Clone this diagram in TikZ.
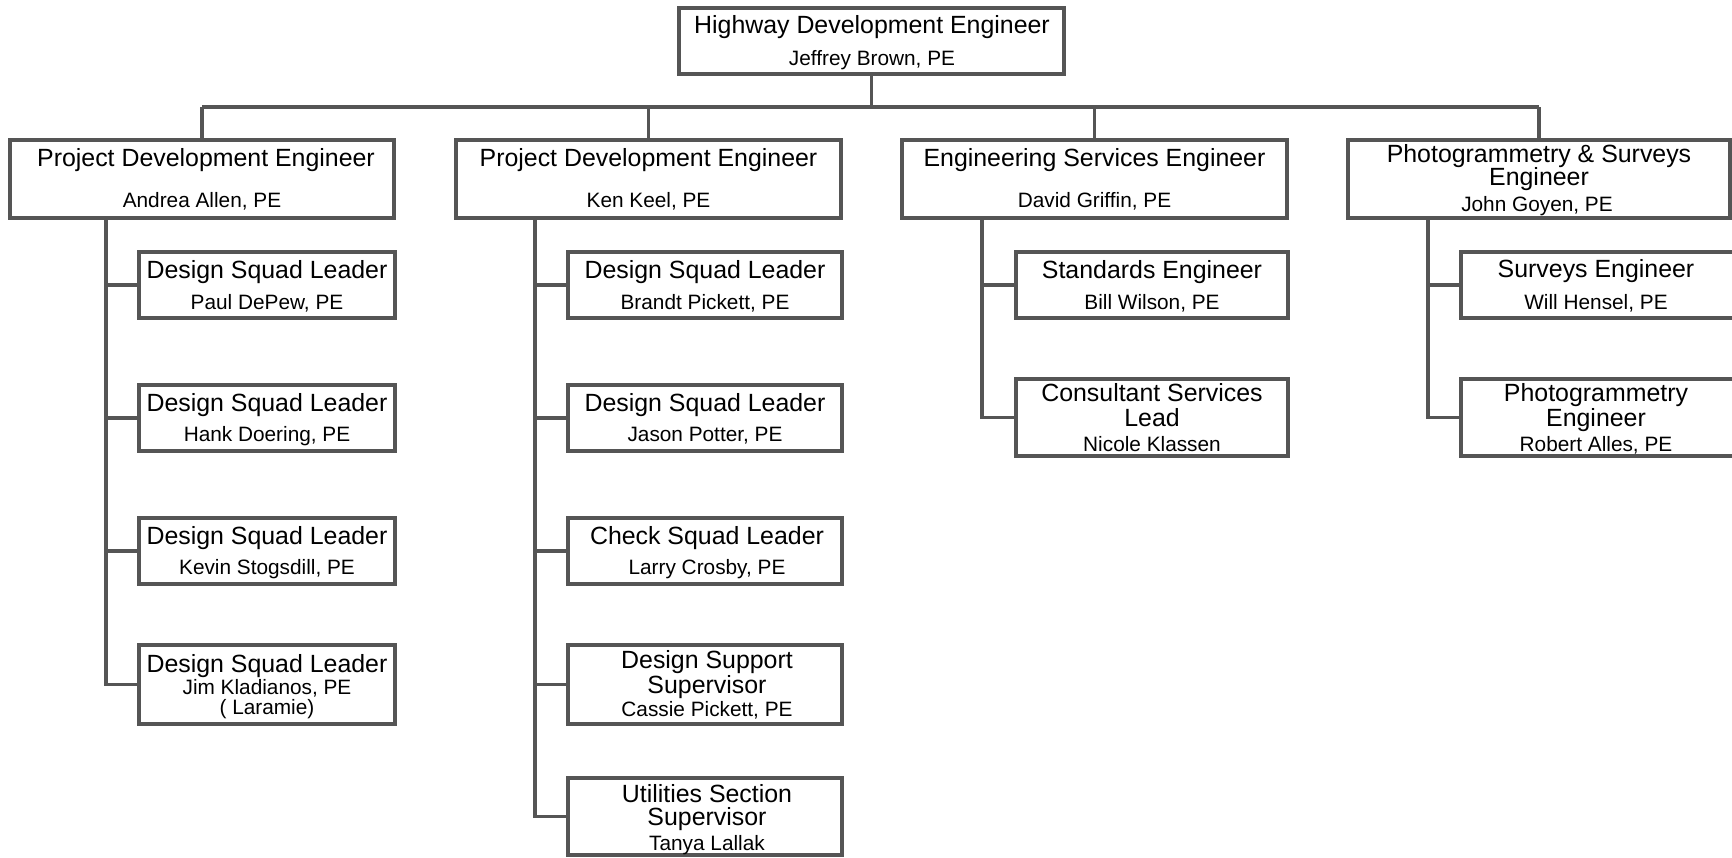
\documentclass[tikz,border=0pt]{standalone}
\usepackage{fontspec}
\setmainfont{Liberation Sans}
\usetikzlibrary{fit}
\definecolor{lg}{RGB}{85,85,85}
\tikzset{
  box/.style={draw=lg, line width=3.2pt, fill=white, inner sep=0pt, rectangle},
  ttl/.style={anchor=base, font=\fontsize{24.9}{28}\selectfont, inner sep=0pt, text=black},
  nm/.style={anchor=base, font=\fontsize{20.8}{24}\selectfont, inner sep=0pt, text=black},
  wire/.style={draw=lg, line width=3.2pt}
}
\begin{document}
\begin{tikzpicture}[x=1pt,y=-1pt]
\fill[white] (0,0) rectangle (1732,857);
\useasboundingbox (0,0) rectangle (1732,857);

% coordinates
\coordinate (busL) at (202,107);
\coordinate (busR) at (1539,107);
\coordinate (sA) at (106,250);
\coordinate (sB) at (535,250);
\coordinate (sC) at (982,250);
\coordinate (sD) at (1428,250);

% boxes
\node[box, fit={(679,8) (1064,74)}] (top) {};
\node[box, fit={(10,140) (394,218)}] (A) {};
\node[box, fit={(456,140) (841,218)}] (B) {};
\node[box, fit={(902,140) (1287,218)}] (C) {};
\node[box, fit={(1348,140) (1730,218)}] (D) {};

\node[box, fit={(139,252) (395,318)}] (a1) {};
\node[box, fit={(139,385) (395,451)}] (a2) {};
\node[box, fit={(139,518) (395,584)}] (a3) {};
\node[box, fit={(139,645) (395,724)}] (a4) {};

\node[box, fit={(568,252) (842,318)}] (b1) {};
\node[box, fit={(568,385) (842,451)}] (b2) {};
\node[box, fit={(568,518) (842,584)}] (b3) {};
\node[box, fit={(568,645) (842,724)}] (b4) {};
\node[box, fit={(568,778) (842,855)}] (b5) {};

\node[box, fit={(1016,252) (1288,318)}] (c1) {};
\node[box, fit={(1016,379) (1288,456)}] (c2) {};

\node[box, fit={(1461,252) (1745,318)}] (d1) {};
\node[box, fit={(1461,379) (1745,456)}] (d2) {};

% connectors
\draw[wire] (top.south) -- (top.south |- busL);
\draw[wire] (busL) -- (busR);
\draw[wire] (A.north) -- (A.north |- busL);
\draw[wire] (B.north) -- (B.north |- busL);
\draw[wire] (C.north) -- (C.north |- busL);
\draw[wire] (D.north) -- (D.north |- busL);

\draw[wire] (A.south -| sA) |- (a4.west);
\draw[wire] (A.south -| sA) |- (a1.west);
\draw[wire] (A.south -| sA) |- (a2.west);
\draw[wire] (A.south -| sA) |- (a3.west);

\draw[wire] (B.south -| sB) |- (b5.west);
\draw[wire] (B.south -| sB) |- (b1.west);
\draw[wire] (B.south -| sB) |- (b2.west);
\draw[wire] (B.south -| sB) |- (b3.west);
\draw[wire] (B.south -| sB) |- (b4.west);

\draw[wire] (C.south -| sC) |- (c2.west);
\draw[wire] (C.south -| sC) |- (c1.west);

\draw[wire] (D.south -| sD) |- (d2.west);
\draw[wire] (D.south -| sD) |- (d1.west);

% texts
\node[ttl] (tT1) at (872,33) {Highway Development Engineer};
\node[nm]  (tT2) at (872,65) {Jeffrey Brown, PE};

\node[ttl] (tA1) at (206,166.5) {Project Development Engineer};
\node[nm]  (tA2) at (202,207) {Andrea Allen, PE};
\node[ttl] (tB1) at (648.5,166.5) {Project Development Engineer};
\node[nm]  (tB2) at (648.5,207) {Ken Keel, PE};
\node[ttl] (tC1) at (1094.5,166.5) {Engineering Services Engineer};
\node[nm]  (tC2) at (1094.5,207) {David Griffin, PE};
\node[ttl] (tD1) at (1539,162) {Photogrammetry \& Surveys};
\node[ttl] (tD2) at (1539,185.5) {Engineer};
\node[nm]  (tD3) at (1537,211) {John Goyen, PE};

\node[ttl] (ta11) at (267,278) {Design Squad Leader};
\node[nm]  (ta12) at (267,309) {Paul DePew, PE};
\node[ttl] (ta21) at (267,411) {Design Squad Leader};
\node[nm]  (ta22) at (267,441) {Hank Doering, PE};
\node[ttl] (ta31) at (267,544) {Design Squad Leader};
\node[nm]  (ta32) at (267,574) {Kevin Stogsdill, PE};
\node[ttl] (ta41) at (267,672) {Design Squad Leader};
\node[nm]  (ta42) at (267,694) {Jim Kladianos, PE};
\node[nm]  (ta43) at (267,714) {( Laramie)};

\node[ttl] (tb11) at (705,278) {Design Squad Leader};
\node[nm]  (tb12) at (705,309) {Brandt Pickett, PE};
\node[ttl] (tb21) at (705,411) {Design Squad Leader};
\node[nm]  (tb22) at (705,441) {Jason Potter, PE};
\node[ttl] (tb31) at (707,544) {Check Squad Leader};
\node[nm]  (tb32) at (707,574) {Larry Crosby, PE};
\node[ttl] (tb41) at (707,668) {Design Support};
\node[ttl] (tb42) at (707,693) {Supervisor};
\node[nm]  (tb43) at (707,716) {Cassie Pickett, PE};
\node[ttl] (tb51) at (707,802) {Utilities Section};
\node[ttl] (tb52) at (707,825) {Supervisor};
\node[nm]  (tb53) at (707,850) {Tanya Lallak};

\node[ttl] (tc11) at (1152,278) {Standards Engineer};
\node[nm]  (tc12) at (1152,309) {Bill Wilson, PE};
\node[ttl] (tc21) at (1152,401) {Consultant Services};
\node[ttl] (tc22) at (1152,426) {Lead};
\node[nm]  (tc23) at (1152,451) {Nicole Klassen};

\node[ttl] (td11) at (1596,277) {Surveys Engineer};
\node[nm]  (td12) at (1596,309) {Will Hensel, PE};
\node[ttl] (td21) at (1596,401) {Photogrammetry};
\node[ttl] (td22) at (1596,426) {Engineer};
\node[nm]  (td23) at (1596,451) {Robert Alles, PE};
\end{tikzpicture}
\end{document}
